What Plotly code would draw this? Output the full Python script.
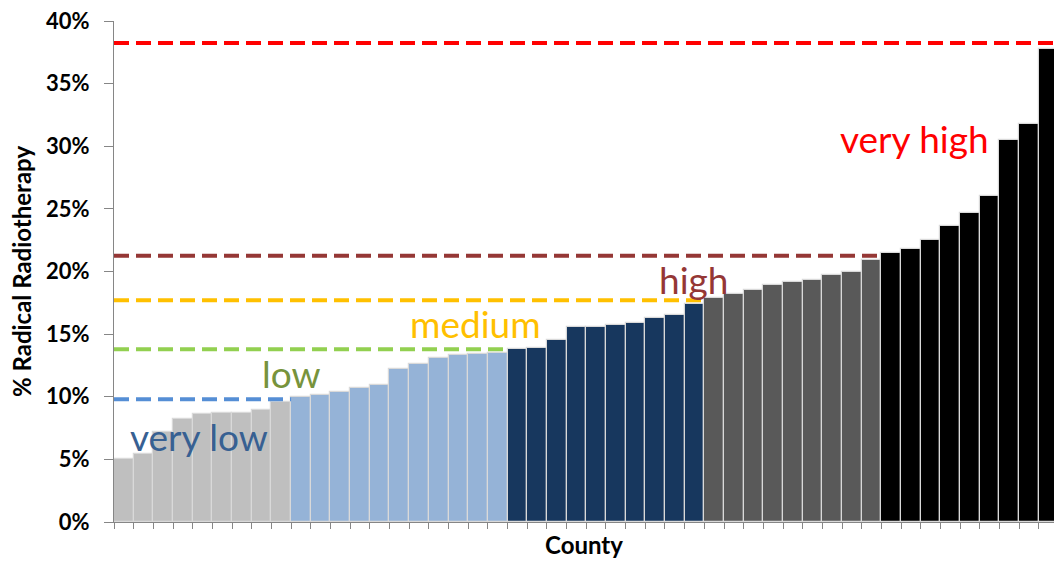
import plotly.graph_objects as go

# ---- data ----
group_names = ["very low", "low", "medium", "high", "very high"]
group_sizes = [9, 11, 10, 9, 9]
group_colors = ["#BFBFBF", "#95B3D7", "#17375E", "#595959", "#000000"]
line_colors = ["#558ED5", "#92D050", "#FFC000", "#953735", "#FF0000"]
text_colors = ["#376092", "#77933C", "#FFC000", "#953735", "#FF0000"]
thresholds = [9.8, 13.8, 17.7, 21.25, 38.25]  # % radical radiotherapy cut points

values = [
    5.0, 5.4, 7.2, 8.25, 8.6, 8.7, 8.7, 8.95, 9.55,
    9.95, 10.15, 10.4, 10.7, 10.9, 12.2, 12.6, 13.1, 13.3, 13.4, 13.5,
    13.8, 13.9, 14.5, 15.55, 15.6, 15.7, 15.85, 16.3, 16.55, 17.4,
    17.9, 18.2, 18.5, 18.95, 19.2, 19.3, 19.7, 19.95, 20.9,
    21.5, 21.8, 22.5, 23.6, 24.65, 26.0, 30.5, 31.75, 37.8,
]
counties = [f"County {i + 1}" for i in range(len(values))]

# label positions (category index, % value)
label_x = [3.84, 8.53, 17.87, 28.94, 40.2]
label_y = [6.85, 11.85, 15.85, 19.4, 30.6]

y_ticks = [0, 5, 10, 15, 20, 25, 30, 35, 40]

# ---- figure ----
bar_colors = []
for size, col in zip(group_sizes, group_colors):
    bar_colors += [col] * size

fig = go.Figure()
fig.add_trace(go.Bar(
    x=counties, y=values,
    marker=dict(color=bar_colors, line=dict(color="#D9D9D9", width=1.2)),
    showlegend=False, hoverinfo="x+y",
))

# dashed threshold lines, from the axis to the end of each group
ends = []
acc = 0
for s in group_sizes:
    acc += s
    ends.append(acc - 0.5)
x_end = len(values) - 0.73
for i, (thr, col) in enumerate(zip(thresholds, line_colors)):
    x1 = ends[i] if i < len(thresholds) - 1 else x_end
    fig.add_shape(type="line", xref="x", yref="y", x0=-0.5, x1=x1, y0=thr, y1=thr,
                  line=dict(color=col, width=4, dash="15px,7px"), layer="above")

for name, lx, ly, col in zip(group_names, label_x, label_y, text_colors):
    fig.add_annotation(x=lx, y=ly, xref="x", yref="y", text=name, showarrow=False,
                       font=dict(family="Lato", size=37, color=col))

fig.update_layout(
    width=1054, height=565,
    margin=dict(l=114, r=0, t=21, b=43, autoexpand=False),
    plot_bgcolor="white", paper_bgcolor="white",
    bargap=0,
    font=dict(family="Lato", color="black"),
)
fig.update_xaxes(
    range=[-0.5, x_end], showticklabels=False, tickson="boundaries",
    ticks="outside", ticklen=6, tickcolor="#868686",
    showline=True, linecolor="#868686", linewidth=1, showgrid=False,
    title=dict(text="<b>County</b>", font=dict(size=24, family="Lato"), standoff=15),
)
fig.update_yaxes(
    range=[0, 40], tickvals=y_ticks, ticktext=[f"<b>{v}%</b>" for v in y_ticks],
    ticks="outside", ticklen=9, tickcolor="#868686", ticklabelstandoff=10,
    tickfont=dict(size=22, family="Lato"),
    showline=True, linecolor="#868686", linewidth=1, showgrid=False, zeroline=False,
    title=dict(text="<b>% Radical Radiotherapy</b>", font=dict(size=24, family="Lato"), standoff=7),
)

fig.write_html(
    "out.html",
    config={"displayModeBar": False},
    post_script="document.body.style.margin='0px';document.body.style.overflow='hidden';",
)
